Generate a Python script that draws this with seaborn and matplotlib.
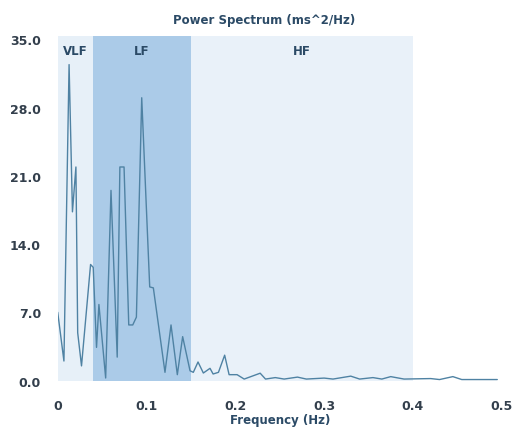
import matplotlib
matplotlib.use("Agg")
import matplotlib.pyplot as plt
from matplotlib import font_manager
import seaborn as sns
import pandas as pd

freq = [0.000, 0.007, 0.0128, 0.0166, 0.0205, 0.0225, 0.0268, 0.0370, 0.0400, 0.0437,
        0.0464, 0.0540, 0.0600, 0.0670, 0.0700, 0.0747, 0.0800, 0.0845, 0.0886, 0.0946,
        0.1036, 0.1077, 0.1208, 0.1276, 0.1347, 0.1407, 0.1490, 0.1527, 0.1580, 0.1640,
        0.1715, 0.1750, 0.1810, 0.1880, 0.1930, 0.2020, 0.2100, 0.2280, 0.2340, 0.2450,
        0.2550, 0.2700, 0.2800, 0.3000, 0.3100, 0.3300, 0.3400, 0.3550, 0.3650, 0.3750,
        0.3900, 0.4200, 0.4300, 0.4450, 0.4550, 0.4950]
power = [7.0, 2.0, 32.4, 17.3, 21.9, 4.9, 1.5, 11.9, 11.6, 3.4,
         7.8, 0.26, 19.5, 2.4, 21.9, 21.9, 5.7, 5.7, 6.5, 29.0,
         9.6, 9.5, 0.84, 5.7, 0.6, 4.5, 1.0, 0.84, 1.9, 0.77,
         1.25, 0.67, 0.84, 2.6, 0.6, 0.6, 0.15, 0.75, 0.15, 0.3,
         0.15, 0.35, 0.15, 0.25, 0.15, 0.45, 0.15, 0.3, 0.15, 0.4,
         0.15, 0.2, 0.1, 0.4, 0.1, 0.1]

bands = ["VLF", "LF", "HF"]
band_edges = [(0.0, 0.04), (0.04, 0.15), (0.15, 0.4)]
band_colors = ["#e7f0f8", "#abcbe8", "#e9f1f9"]
y_ticks = [0.0, 7.0, 14.0, 21.0, 28.0, 35.0]
x_ticks = [0, 0.1, 0.2, 0.3, 0.4, 0.5]
x_ticklabels = ["0", "0.1", "0.2", "0.3", "0.4", "0.5"]

sns.set_theme(style="white")
names = {f.name for f in font_manager.fontManager.ttflist}
narrow = "Liberation Sans Narrow" in names
fam = "Liberation Sans Narrow" if narrow else "DejaVu Sans"
plt.rcParams['font.family'] = [fam, 'DejaVu Sans']
scale = 1.25 if narrow else 1.0

fig = plt.figure(figsize=(5.13, 4.31), dpi=100)
ax = fig.add_axes([0.1125, 0.1148, 0.8655, 0.7986])

for (lo, hi), c in zip(band_edges, band_colors):
    ax.axvspan(lo, hi, color=c, lw=0, zorder=0)

for name, (lo, hi) in zip(bands, band_edges):
    ax.text((lo + hi) / 2, 33.8, name,
            ha="center", va="center", fontsize=8.5 * scale, fontweight="bold",
            color="#2b4a66")

df = pd.DataFrame({"Frequency": freq, "Power": power})
sns.lineplot(data=df, x="Frequency", y="Power", ax=ax, color="#4f82a3",
             linewidth=1.0, zorder=3)

ax.set_xlim(0, 0.5)
ax.set_ylim(0, 35.3)
ax.set_xticks(x_ticks)
ax.set_xticklabels(x_ticklabels)
ax.set_yticks(y_ticks)
ax.set_yticklabels([f"{v:.1f}" for v in y_ticks])
ax.tick_params(axis="both", length=0, labelsize=9 * scale, labelcolor="#333f4c")
ax.tick_params(axis="y", pad=12)
ax.tick_params(axis="x", pad=13)
for lab in ax.get_xticklabels() + ax.get_yticklabels():
    lab.set_fontweight("bold")
for s in ax.spines.values():
    s.set_visible(False)

ax.set_xlabel("Frequency (Hz)", fontsize=8.5 * scale, fontweight="bold",
              color="#2b4a66", labelpad=1)
ax.set_ylabel("")
fig.text(0.515, 0.953, "Power Spectrum (ms^2/Hz)", ha="center", va="center",
         fontsize=8.5 * scale, fontweight="bold", color="#2b4a66")

fig.savefig("out.png", dpi=100)
